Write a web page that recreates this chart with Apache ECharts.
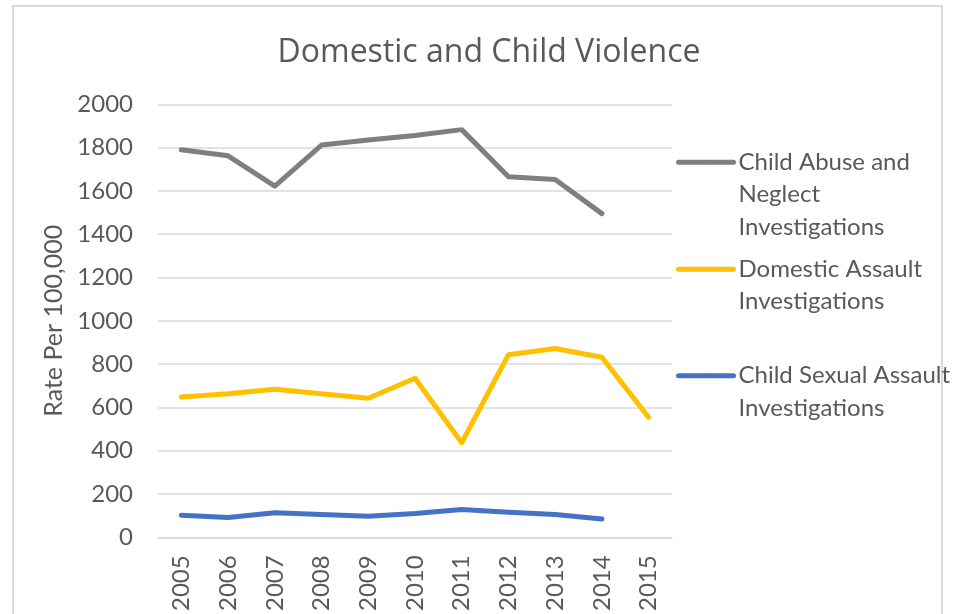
<!DOCTYPE html>
<html>
<head>
<meta charset="utf-8">
<script src="https://cdn.jsdelivr.net/npm/echarts@6/dist/echarts.min.js"></script>
<style>
  html, body { margin: 0; padding: 0; background: #ffffff; }
  #frame { position: absolute; left: 12px; top: 5px; width: 931px; height: 640px; border: 2px solid #d9d9d9; box-sizing: border-box; }
  #chart { position: absolute; left: 0; top: 0; width: 955px; height: 614px; }
</style>
</head>
<body>
<div id="frame"></div>
<div id="chart"></div>
<script>
const categories = ['2005', '2006', '2007', '2008', '2009', '2010', '2011', '2012', '2013', '2014', '2015'];
const childAbuse = [1790, 1762, 1622, 1812, 1835, 1856, 1883, 1665, 1653, 1495, null];
const domesticAssault = [648, 663, 684, 663, 642, 735, 437, 843, 872, 832, 554];
const childSexualAssault = [102, 91, 113, 105, 97, 110, 128, 116, 105, 85, null];
const seriesNames = ['Child Abuse and Neglect Investigations', 'Domestic Assault Investigations', 'Child Sexual Assault Investigations'];
const legendLabels = ['\n\nChild Abuse and\nNeglect\nInvestigations', '\nDomestic Assault\nInvestigations', '\nChild Sexual Assault\nInvestigations'];
const colors = ['#7f7f7f', '#ffc000', '#4472c4'];
const yTicks = { min: 0, max: 2000, interval: 200 };

const FONT = 'Lato';
const TXT = '#595959';

function legendFor(i, top) {
  return {
    data: [seriesNames[i]],
    left: 676,
    top: top,
    padding: 0,
    orient: 'vertical',
    itemWidth: 55,
    itemHeight: 5,
    lineStyle: { width: 5, cap: 'round' },
    formatter: function () { return legendLabels[i]; },
    textStyle: { fontFamily: FONT, fontSize: 24, color: TXT, lineHeight: 32.5 },
    selectedMode: false
  };
}

const chart = echarts.init(document.getElementById('chart'), null, { renderer: 'canvas' });
chart.setOption({
  animation: false,
  color: colors,
  title: {
    text: 'Domestic and Child Violence',
    left: 484,
    textAlign: 'center',
    top: 32,
    textStyle: { fontFamily: 'Open Sans', fontSize: 32, fontWeight: 'normal', color: TXT }
  },
  legend: [legendFor(0, 81), legendFor(1, 220.5), legendFor(2, 327)],
  grid: { left: 158, right: 955 - 672, top: 104.3, bottom: 614 - 537.3, containLabel: false },
  xAxis: {
    type: 'category',
    data: categories,
    boundaryGap: true,
    axisLine: { show: true, lineStyle: { color: '#d9d9d9', width: 1.5 } },
    axisTick: { show: false },
    axisLabel: { rotate: 90, margin: 18, fontFamily: FONT, fontSize: 24, color: TXT }
  },
  yAxis: {
    type: 'value',
    min: yTicks.min,
    max: yTicks.max,
    interval: yTicks.interval,
    name: 'Rate Per 100,000',
    nameLocation: 'middle',
    nameGap: 86,
    nameTextStyle: { fontFamily: FONT, fontSize: 25, color: TXT },
    axisLine: { show: false },
    axisTick: { show: false },
    axisLabel: { margin: 25, fontFamily: FONT, fontSize: 24, color: TXT, formatter: function (v) { return String(v); } },
    splitLine: { lineStyle: { color: '#d9d9d9', width: 1.5 } }
  },
  series: [
    { name: seriesNames[0], type: 'line', data: childAbuse, symbol: 'none', lineStyle: { width: 5, cap: 'round', join: 'round' } },
    { name: seriesNames[1], type: 'line', data: domesticAssault, symbol: 'none', lineStyle: { width: 5, cap: 'round', join: 'round' } },
    { name: seriesNames[2], type: 'line', data: childSexualAssault, symbol: 'none', lineStyle: { width: 5, cap: 'round', join: 'round' } }
  ]
});
</script>
</body>
</html>
